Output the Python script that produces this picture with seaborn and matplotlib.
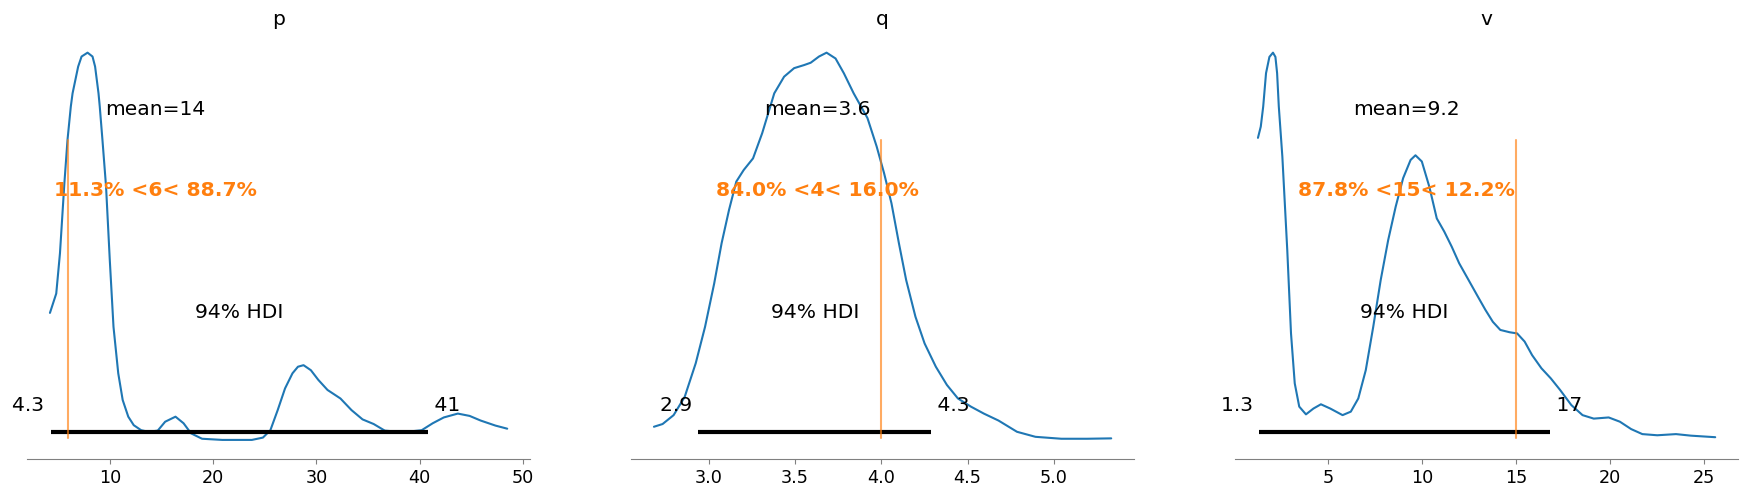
import numpy as np
import matplotlib
matplotlib.use("Agg")
import matplotlib.pyplot as plt
import seaborn as sns

# density curves (relative density, peak = 1)
p_x = [4.21, 4.82, 5.18, 5.6, 5.91, 6.23, 6.40, 6.94, 7.27, 7.85, 8.33, 8.58, 8.91,
       9.03, 9.29, 9.64, 10.0, 10.36, 10.82, 11.25, 11.79, 12.32, 13.04, 13.75,
       14.64, 15.36, 16.36, 17.14, 17.86, 18.93, 20.89, 23.75, 24.82, 25.54, 26.25,
       26.96, 27.68, 28.21, 28.75, 29.46, 30.18, 31.07, 32.32, 33.39, 34.46, 35.54,
       36.61, 38.4, 40.18, 41.25, 42.32, 43.68, 44.82, 45.89, 47.32, 48.46]
p_y = [0.328, 0.378, 0.482, 0.66, 0.775, 0.861, 0.895, 0.964, 0.99, 1.0, 0.99, 0.964,
       0.895, 0.861, 0.775, 0.654, 0.465, 0.292, 0.172, 0.103, 0.06, 0.038, 0.025,
       0.021, 0.024, 0.047, 0.06, 0.043, 0.017, 0.003, 0.0, 0.0, 0.006, 0.025, 0.077,
       0.133, 0.172, 0.189, 0.193, 0.18, 0.155, 0.129, 0.107, 0.077, 0.053, 0.041,
       0.024, 0.02, 0.025, 0.043, 0.058, 0.068, 0.062, 0.05, 0.037, 0.029]

q_x = [2.683, 2.733, 2.797, 2.861, 2.925, 2.979, 3.032, 3.075, 3.118, 3.16, 3.203,
       3.257, 3.31, 3.38, 3.437, 3.495, 3.553, 3.591, 3.639, 3.683, 3.735, 3.783,
       3.84, 3.92, 3.973, 4.016, 4.059, 4.102, 4.144, 4.198, 4.251, 4.316, 4.38,
       4.444, 4.519, 4.594, 4.679, 4.786, 4.893, 5.043, 5.193, 5.332]
q_y = [0.034, 0.041, 0.064, 0.111, 0.198, 0.292, 0.404, 0.508, 0.594, 0.667, 0.697,
       0.727, 0.792, 0.895, 0.938, 0.96, 0.968, 0.974, 0.99, 1.0, 0.985, 0.947,
       0.895, 0.831, 0.758, 0.689, 0.611, 0.508, 0.413, 0.318, 0.249, 0.189, 0.142,
       0.107, 0.086, 0.068, 0.05, 0.021, 0.008, 0.003, 0.003, 0.004]

v_x = [1.25, 1.40, 1.53, 1.68, 1.86, 2.05, 2.18, 2.27, 2.36, 2.55, 2.811, 3.01,
       3.209, 3.448, 3.806, 4.204, 4.602, 5.1, 5.756, 6.194, 6.592, 6.99, 7.388,
       7.786, 8.184, 8.582, 8.98, 9.378, 9.637, 9.975, 10.373, 10.771, 11.169,
       11.567, 11.965, 12.463, 12.96, 13.358, 13.756, 14.154, 14.652, 15.05, 15.448,
       15.846, 16.343, 16.841, 17.338, 17.935, 18.532, 19.129, 19.925, 20.522,
       21.119, 21.716, 22.512, 23.507, 24.303, 25.597]
v_y = [0.78, 0.809, 0.861, 0.947, 0.989, 1.0, 0.989, 0.947, 0.861, 0.731, 0.49,
       0.275, 0.146, 0.086, 0.066, 0.081, 0.092, 0.081, 0.064, 0.073, 0.107, 0.18,
       0.292, 0.413, 0.516, 0.602, 0.676, 0.723, 0.735, 0.719, 0.654, 0.572, 0.538,
       0.499, 0.456, 0.413, 0.37, 0.336, 0.305, 0.284, 0.278, 0.275, 0.254, 0.219,
       0.185, 0.159, 0.129, 0.09, 0.064, 0.055, 0.058, 0.047, 0.028, 0.015, 0.012,
       0.015, 0.011, 0.007]

names = ["p", "q", "v"]
means = [14.4, 3.63, 9.15]
mean_labels = ["14", "3.6", "9.2"]
hdi_low = [4.29, 2.94, 1.32]
hdi_high = [40.79, 4.29, 16.8]
hdi_low_labels = ["4.3", "2.9", "1.3"]
hdi_high_labels = ["41", "4.3", "17"]
ref_vals = [6, 4, 15]
ref_labels = ["11.3% <6< 88.7%", "84.0% <4< 16.0%", "87.8% <15< 12.2%"]

curves = [(p_x, p_y), (q_x, q_y), (v_x, v_y)]

LABEL_SIZE = 14.6
TICK_SIZE = 12.7

sns.set_style("white")
plt.rcParams["text.color"] = "black"
plt.rcParams["xtick.color"] = "black"
plt.rcParams["font.family"] = ["DejaVu Sans"]

fig, axes = plt.subplots(1, 3, figsize=(17.47, 4.97), dpi=100)
plt.subplots_adjust(left=0.0155, right=0.9949, bottom=0.0759, top=0.933, wspace=0.2008)

for i, ax in enumerate(axes):
    xs, ys = curves[i]
    sns.lineplot(x=xs, y=ys, ax=ax, color="C0", linewidth=1.5, sort=False, estimator=None)
    ax.set_ylim(-0.05, 1.05)
    ph = ax.get_ylim()[1]

    # hdi bar and labels
    ax.plot([hdi_low[i], hdi_high[i]], [ph * 0.02, ph * 0.02], lw=3, color="k",
            solid_capstyle="butt")
    ax.text(hdi_low[i], ph * 0.07, hdi_low_labels[i] + " ", size=LABEL_SIZE,
            ha="right")
    ax.text(hdi_high[i], ph * 0.07, " " + hdi_high_labels[i], size=LABEL_SIZE,
            ha="left")
    ax.text((hdi_low[i] + hdi_high[i]) / 2, ph * 0.3, "94% HDI", size=LABEL_SIZE,
            ha="center")

    # reference value
    ax.axvline(ref_vals[i], ymin=0.05, ymax=0.75, lw=1.5, alpha=0.65, color="C1")
    ax.text(means[i], ph * 0.6, ref_labels[i], size=LABEL_SIZE, weight="semibold",
            ha="center", color="C1")

    # point estimate
    ax.text(means[i], ph * 0.8, "mean=" + mean_labels[i], size=LABEL_SIZE,
            ha="center")

    ax.set_title(names[i], fontsize=LABEL_SIZE, color="black")
    ax.set_yticks([])
    ax.set_xlabel("")
    ax.tick_params(axis="x", labelsize=TICK_SIZE, bottom=True, length=3.5,
                   color="0.5", labelcolor="black")
    sns.despine(ax=ax, left=True, top=True, right=True)
    ax.spines["bottom"].set_color("0.5")
    ax.spines["bottom"].set_linewidth(0.8)

fig.savefig("out.png", dpi=100)
